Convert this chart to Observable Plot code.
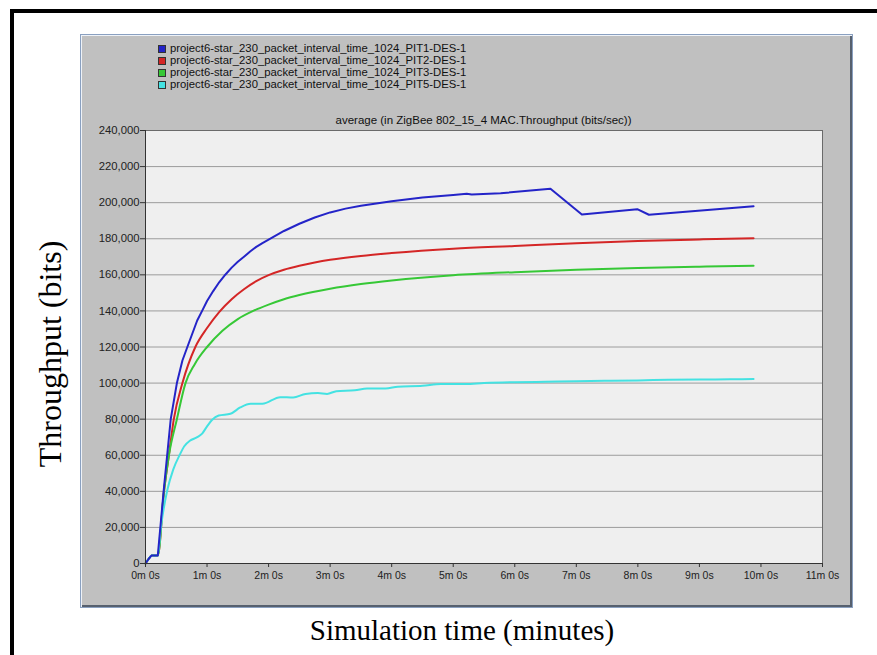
<!DOCTYPE html>
<html>
<head>
<meta charset="utf-8">
<script src="https://cdn.jsdelivr.net/npm/d3@7"></script>
<script src="https://cdn.jsdelivr.net/npm/@observablehq/plot@0.6"></script>
<style>
  html, body { margin: 0; padding: 0; background: #fff; }
  #wrap { position: relative; width: 877px; height: 655px; overflow: hidden; background: #fff; }
  #outer { position: absolute; left: 10px; top: 9px; width: 900px; height: 700px;
           border-left: 4px solid #000; border-top: 4px solid #000; }
  #panel { position: absolute; left: 80px; top: 34px; width: 773px; height: 574px; box-sizing: border-box;
           background: #c0c0c0; border: 1px solid #8aa0c0;
           box-shadow: inset 1px 1px 0 #eef2f8, inset -2px -2px 0 #56606e; }
  #chart { position: absolute; left: 80px; top: 34px; }
  .leg { position: absolute; left: 158px; font-family: "Liberation Sans", Arial, sans-serif; font-size: 11.3px; color: #111; line-height: 12px; white-space: nowrap; }
  .leg span.sw { display: inline-block; width: 6px; height: 6px; border: 1px solid #333; margin-right: 4px; vertical-align: -1px; }
  #sub { position: absolute; left: 145px; width: 677px; top: 114px; text-align: center;
         font-family: "Liberation Sans", Arial, sans-serif; font-size: 11.5px; color: #111; }
  #ylab { position: absolute; left: 50px; top: 354px; transform: translate(-50%, -50%) rotate(-90deg);
          font-family: "Liberation Serif", "Times New Roman", serif; font-size: 32px; color: #000; white-space: nowrap; }
  #xlab { position: absolute; left: 462px; top: 630px; transform: translate(-50%, -50%);
          font-family: "Liberation Serif", "Times New Roman", serif; font-size: 29px; color: #000; white-space: nowrap; }
</style>
</head>
<body>
<div id="wrap">
  <div id="outer"></div>
  <div id="panel"></div>
  <div id="chart"></div>
  <div id="legend"></div>
  <div id="sub">average (in ZigBee 802_15_4 MAC.Throughput (bits/sec))</div>
  <div id="ylab">Throughput (bits)</div>
  <div id="xlab">Simulation time (minutes)</div>
</div>
<script>
// Series names
const seriesNames = [
  "project6-star_230_packet_interval_time_1024_PIT1-DES-1",
  "project6-star_230_packet_interval_time_1024_PIT2-DES-1",
  "project6-star_230_packet_interval_time_1024_PIT3-DES-1",
  "project6-star_230_packet_interval_time_1024_PIT5-DES-1"
];
const seriesColors = ["#2424c8", "#d42626", "#36c836", "#44e2e2"];

// [minutes, bits/sec]
const pit1 = [[0,0],[0.05,2500],[0.1,4500],[0.2,4500],[0.3,42000],[0.41,80000],[0.51,100000],[0.6,112500],
  [0.68,120000],[0.84,134700],[0.92,140000],[1.0,145500],[1.1,151000],[1.2,156000],[1.3,160200],[1.4,164000],
  [1.5,167200],[1.6,170000],[1.7,172900],[1.8,175500],[1.9,177600],[2.0,179500],[2.25,184300],[2.5,188300],
  [2.75,191800],[3.0,194600],[3.25,196700],[3.5,198300],[4.0,200800],[4.5,202800],[5.0,204300],[5.22,205000],
  [5.3,204500],[5.77,205200],[6.58,207700],[7.09,193400],[7.99,196400],[8.18,193300],[9.88,198000]];
const pit2 = [[0,0],[0.05,2500],[0.1,4500],[0.2,4500],[0.3,40000],[0.38,60000],[0.46,80000],[0.6,100000],
  [0.81,120000],[1.0,130500],[1.2,139500],[1.4,146500],[1.6,152000],[1.8,156500],[2.0,159800],[2.25,162800],
  [2.5,165000],[2.75,166800],[3.0,168300],[3.5,170500],[4.0,172100],[5.0,174500],[6.0,176000],[7.0,177500],
  [8.0,178700],[9.0,179600],[9.88,180300]];
const pit3 = [[0,0],[0.05,2500],[0.1,4500],[0.2,4500],[0.3,40000],[0.38,60000],[0.51,80000],[0.65,100000],
  [0.8,110500],[1.0,120000],[1.25,129000],[1.5,135500],[1.75,140000],[2.0,143500],[2.25,146500],[2.5,148800],
  [3.0,152300],[3.5,154900],[4.0,156900],[5.0,159800],[6.0,161500],[7.0,162800],[8.0,163800],[9.0,164500],
  [9.88,165000]];
const pit5 = [[0,0],[0.05,2500],[0.1,4500],[0.2,4500],[0.25,20000],[0.35,40000],[0.45,52000],[0.56,60500],
  [0.63,65000],[0.72,68000],[0.84,70000],[0.92,72000],[1.0,76000],[1.08,79500],[1.19,82000],[1.38,83000],
  [1.54,86500],[1.71,88500],[1.9,88500],[2.19,92200],[2.4,92000],[2.6,94000],[2.8,94500],[2.95,94000],
  [3.1,95500],[3.4,96000],[3.6,97000],[3.9,97000],[4.1,98000],[4.5,98500],[4.8,99500],[5.2,99500],
  [5.5,100000],[6.0,100500],[6.5,100700],[7.0,101000],[7.5,101300],[8.0,101500],[8.5,101800],[9.0,102000],
  [9.5,102100],[9.88,102200]];

const xTicks = [0,1,2,3,4,5,6,7,8,9,10,11];
const yTicks = [0,20000,40000,60000,80000,100000,120000,140000,160000,180000,200000,220000,240000];

const allSeries = [pit1, pit2, pit3, pit5];
const rows = allSeries.flatMap((s, i) => s.map(([t, v]) => ({t, v, name: seriesNames[i]})));
const smoothRows = rows.filter(d => d.name !== seriesNames[0]);
const blueRows = rows.filter(d => d.name === seriesNames[0]);

const plot = Plot.plot({
  width: 773, height: 574,
  marginLeft: 65, marginRight: 31, marginTop: 96, marginBottom: 45,
  style: {background: "transparent", fontFamily: "'Liberation Sans', Arial, sans-serif", fontSize: "11.3px", color: "#222"},
  x: {domain: [0, 11], label: null},
  y: {domain: [0, 240000], label: null},
  color: {domain: seriesNames, range: seriesColors},
  marks: [
    Plot.frame({fill: "#efefef", stroke: null}),
    Plot.ruleY(yTicks.filter(d => d > 0), {stroke: "#9c9c9c", strokeWidth: 1}),
    Plot.line(smoothRows, {x: "t", y: "v", z: "name", stroke: "name", strokeWidth: 2, curve: "monotone-x"}),
    Plot.line(blueRows, {x: "t", y: "v", z: "name", stroke: "name", strokeWidth: 2, curve: "linear"}),
    Plot.frame({stroke: "#6a6a6a", strokeWidth: 1}),
    Plot.ruleX([0], {stroke: "#333"}),
    Plot.ruleY([0], {stroke: "#333"}),
    Plot.axisY({ticks: yTicks, tickFormat: d3.format(","), tickSize: 5, tickPadding: 1, stroke: "#333", label: null}),
    Plot.axisX({ticks: xTicks, tickFormat: d => `${d}m 0s`, tickSize: 4, tickPadding: 4, fontSize: "10.5px", stroke: "#333", label: null})
  ]
});
document.getElementById("chart").appendChild(plot);

const legend = document.getElementById("legend");
const rowTops = [42, 54, 66, 78];
seriesNames.forEach((n, i) => {
  const d = document.createElement("div");
  d.className = "leg";
  d.style.top = rowTops[i] + "px";
  d.innerHTML = `<span class="sw" style="background:${seriesColors[i]}"></span>${n}`;
  legend.appendChild(d);
});
</script>
</body>
</html>
